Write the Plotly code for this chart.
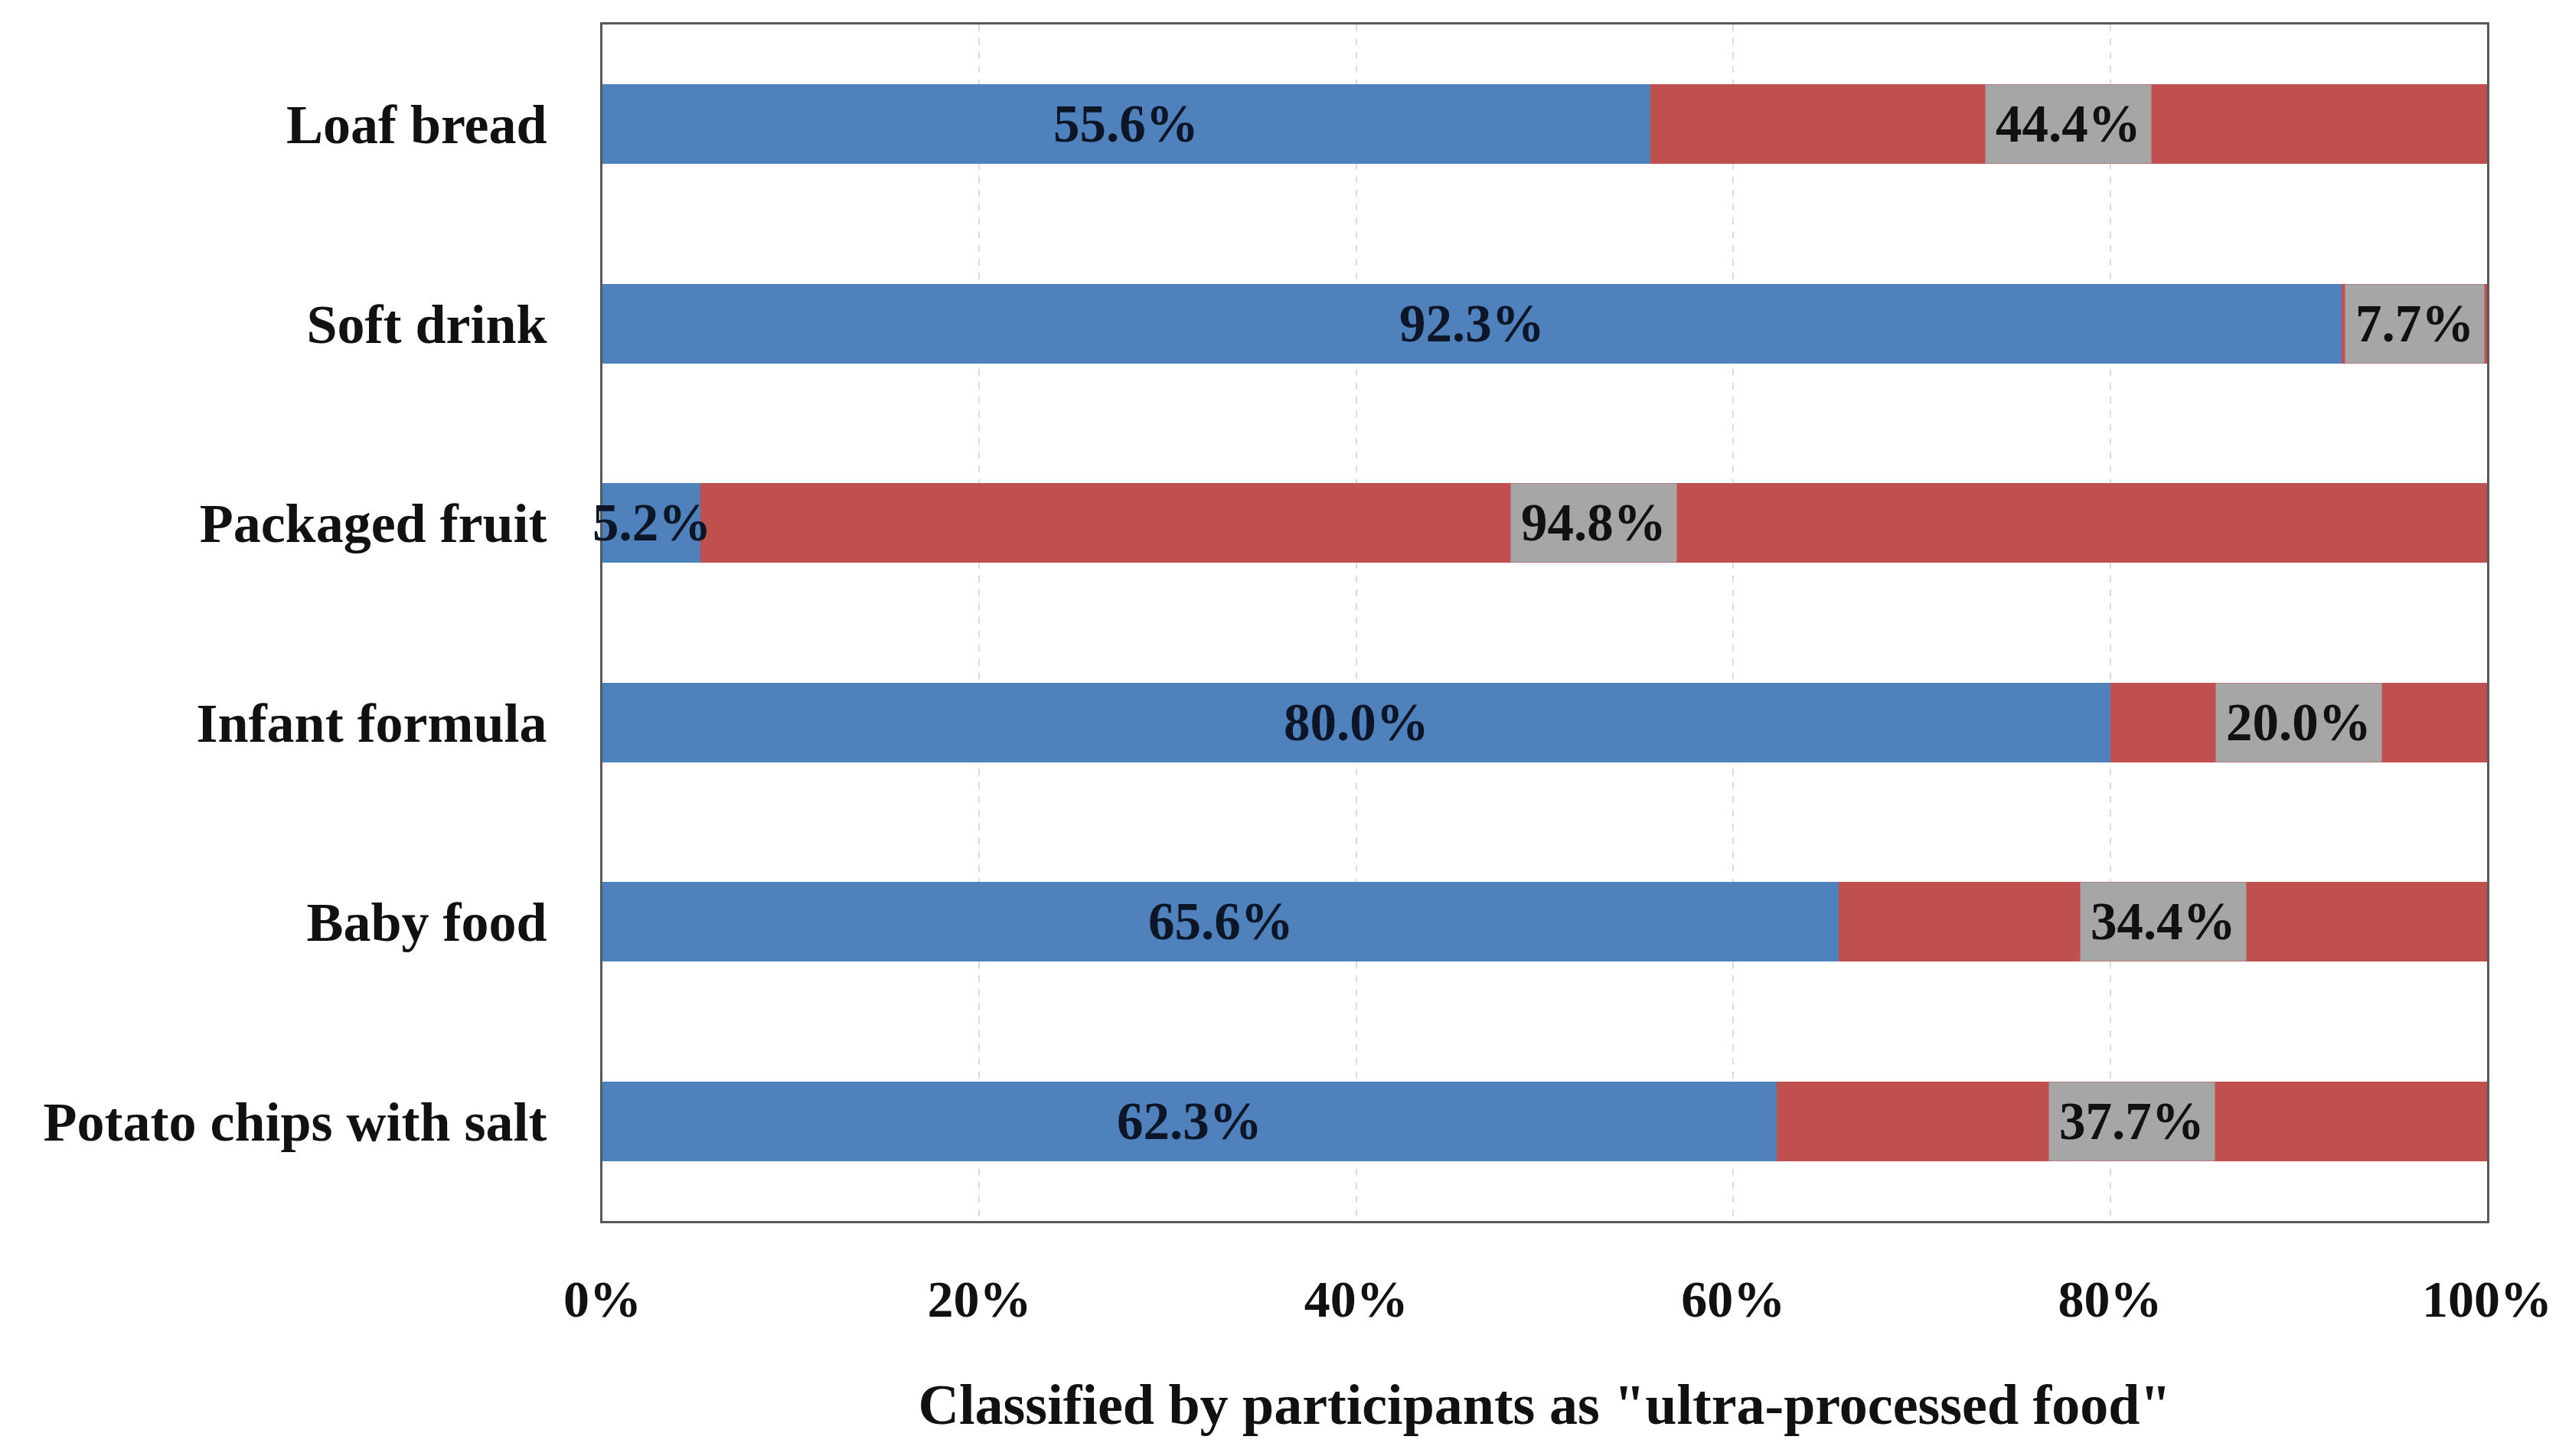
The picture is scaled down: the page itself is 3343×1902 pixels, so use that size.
import plotly.graph_objects as go

categories = ["Loaf bread", "Soft drink", "Packaged fruit", "Infant formula", "Baby food", "Potato chips with salt"]
not_upf = [55.6, 92.3, 5.2, 80.0, 65.6, 62.3]
upf = [44.4, 7.7, 94.8, 20.0, 34.4, 37.7]
tick_vals = [0, 20, 40, 60, 80, 100]
tick_text = ["0%", "20%", "40%", "60%", "80%", "100%"]
x_title = 'Classified by participants as "ultra-processed food"'

BLUE = "#4f81bd"
RED = "#c0504d"
GREY = "#a6a6a6"
FONT = "Liberation Serif"

fig = go.Figure()
fig.add_trace(go.Bar(y=categories, x=not_upf, orientation="h", marker=dict(color=BLUE, line=dict(width=0)),
                     width=0.40, showlegend=False, hoverinfo="skip"))
fig.add_trace(go.Bar(y=categories, x=upf, orientation="h", marker=dict(color=RED, line=dict(width=0)),
                     width=0.40, showlegend=False, hoverinfo="skip"))

for cat, a, b in zip(categories, not_upf, upf):
    fig.add_annotation(x=a / 2, y=cat, xref="x", yref="y", text=f"{a:.1f}%", showarrow=False,
                       font=dict(family=FONT, size=69, color="#0d1626", weight="bold"))
    fig.add_annotation(x=a + b / 2, y=cat, xref="x", yref="y", text=f"{b:.1f}%", showarrow=False,
                       font=dict(family=FONT, size=69, color="#111111", weight="bold"),
                       bgcolor=GREY, borderpad=13)

fig.update_layout(
    width=3343, height=1902,
    margin=dict(l=779, r=102, t=24, b=315),
    barmode="stack",
    plot_bgcolor="white", paper_bgcolor="white",
    font=dict(family=FONT, size=70, color="#111111"),
)
fig.update_xaxes(range=[0, 100], tickvals=tick_vals, ticktext=tick_text,
                 showgrid=True, gridcolor="#dcdcdc", griddash="dash", gridwidth=2,
                 showline=True, linecolor="#595959", linewidth=3, mirror=True,
                 zeroline=False, ticks="", ticklabelstandoff=40,
                 tickfont=dict(family=FONT, size=68, color="#111111", weight="bold"),
                 title=dict(text=x_title, standoff=75,
                            font=dict(family=FONT, size=74, color="#111111", weight="bold")))
fig.update_yaxes(categoryorder="array", categoryarray=categories, autorange="reversed",
                 range=[5.5, -0.5],
                 showgrid=False, showline=True, linecolor="#595959", linewidth=3, mirror=True,
                 ticks="", ticklabelstandoff=55,
                 tickfont=dict(family=FONT, size=72, color="#111111", weight="bold"))

fig.write_html("out.html")
